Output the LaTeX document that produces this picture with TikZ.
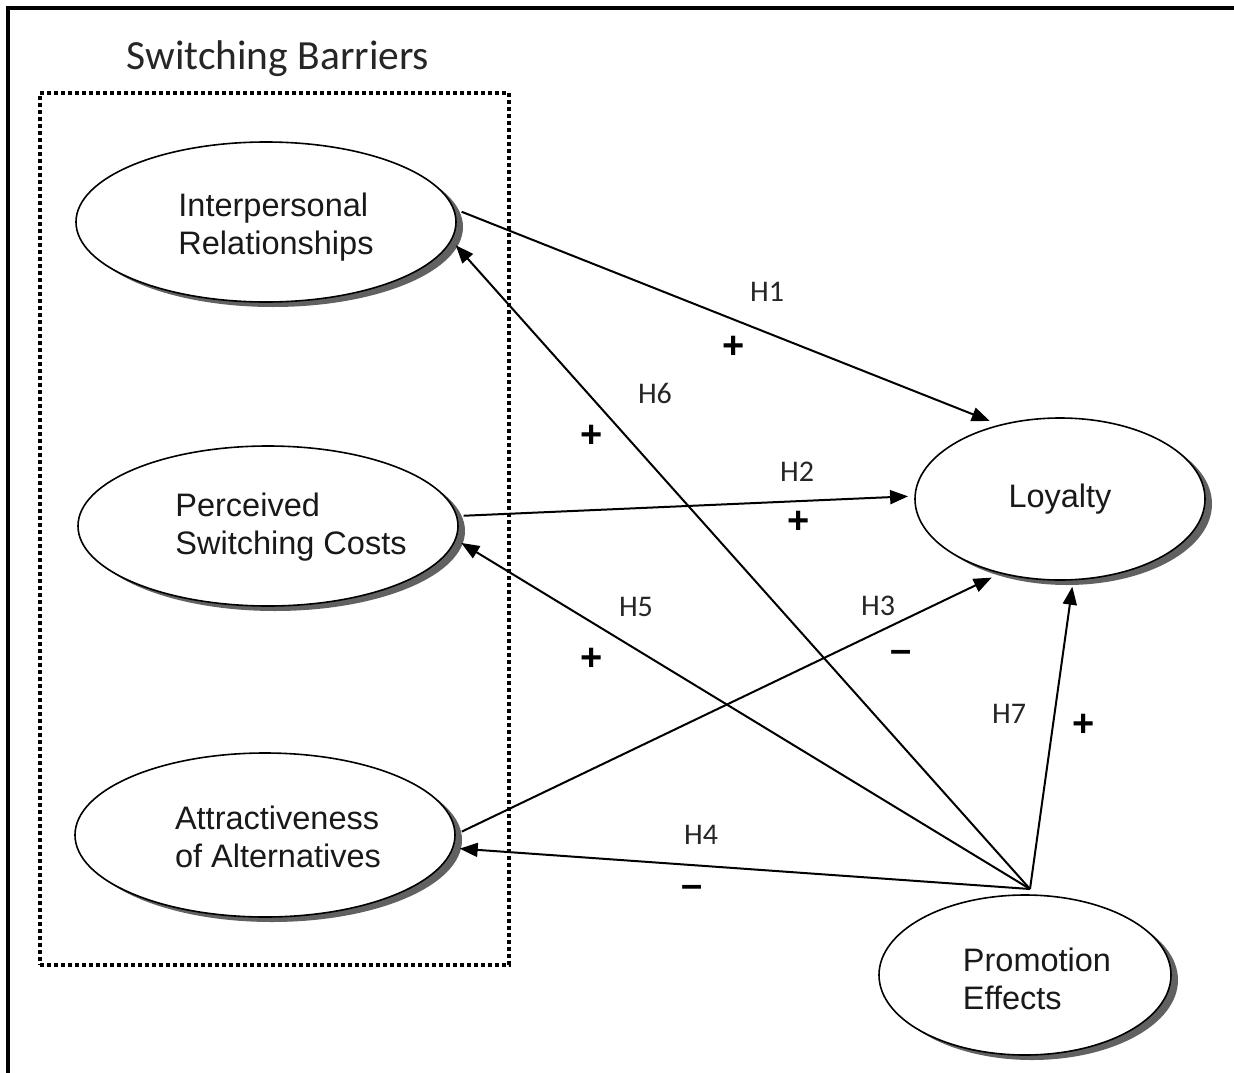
\documentclass[tikz,border=0pt]{standalone}
\usepackage{fontspec}
\setmainfont{Liberation Sans}
\newfontfamily\calib{Carlito}
\usetikzlibrary{shapes.geometric,arrows.meta,shadows}
\newcommand\ctext[3]{\raisebox{#2}[0pt][0pt]{\makebox[0pt]{\hspace*{#1}\begin{tabular}{@{}l@{}}#3\end{tabular}}}}
\begin{document}
\begin{tikzpicture}[x=1pt,y=-1pt,
  latent/.style={ellipse, draw=black, line width=1.6pt, fill=white, inner sep=0pt, outer sep=7pt,
    drop shadow={shadow xshift=7pt, shadow yshift=-5pt, fill=black!62, opacity=1},
    font=\fontsize{32.5}{38}\selectfont, text=black!90},
  hyp/.style={font=\calib\fontsize{30}{36}\selectfont, text=black!85, inner sep=0pt},
  sgn/.style={font=\bfseries\fontsize{38}{40}\selectfont, text=black, inner sep=0pt},
  conn/.style={line width=2pt, -{Triangle[length=18pt,width=14pt]}},
  dotbox/.style={draw, line width=3.6pt, dash pattern=on 3.6pt off 3.4pt, inner sep=0pt}]
\useasboundingbox (0,0) rectangle (1234,1073);
\fill[white] (0,0) rectangle (1234,1073);
% frame
\draw[line width=4pt] (8,1090) -- (8,8) -- (1250,8);
% title and dotted box
\node[font=\calib\fontsize{41.5}{48}\selectfont, text=black!85, inner sep=0pt] (title) at (278,59) {Switching Barriers};
\node[dotbox, minimum width=469pt, minimum height=872pt] (sbbox) at (274.5,529) {};
% constructs
\node[latent, minimum width=380pt, minimum height=160pt] (ir) at (266,222) {\ctext{20pt}{-12pt}{Interpersonal\\Relationships}};
\node[latent, minimum width=380pt, minimum height=160pt] (psc) at (268,526) {\ctext{46pt}{-8pt}{Perceived\\Switching Costs}};
\node[latent, minimum width=380pt, minimum height=164pt] (aa) at (265,835) {\ctext{26pt}{-12pt}{Attractiveness\\of Alternatives}};
\node[latent, minimum width=290pt, minimum height=162pt] (loy) at (1060,499) {Loyalty};
\node[latent, minimum width=292pt, minimum height=160pt] (pe) at (1025,975) {\ctext{24pt}{-14pt}{Promotion\\Effects}};
\coordinate (hub) at (1030,889);
% connectors
\draw[conn] (ir.3) -- (loy.132);
\draw[conn] (psc.3) -- (loy.179);
\draw[conn] (aa.1.5) -- (loy.229);
\draw[conn] (hub) -- (aa.-4);
\draw[conn] (hub) -- (psc.-5);
\draw[conn] (hub) -- (ir.-7);
\draw[conn] (hub) -- (loy.-82);
% labels
\node[hyp] (h1) at (767,292) {H1};
\node[sgn] (s1) at (734,347) {+};
\node[hyp] (h6) at (655,393) {H6};
\node[sgn] (s6) at (592,436) {+};
\node[hyp] (h2) at (797,472) {H2};
\node[sgn] (s2) at (799,522) {+};
\node[hyp] (h5) at (636,607) {H5};
\node[sgn] (s5) at (592,659) {+};
\node[hyp] (h3) at (878,606) {H3};
\node[sgn] (s3) at (901,656) {–};
\node[hyp] (h7) at (1009,714) {H7};
\node[sgn] (s7) at (1084,725) {+};
\node[hyp] (h4) at (701,835) {H4};
\node[sgn] (s4) at (692,891) {–};
\end{tikzpicture}
\end{document}
